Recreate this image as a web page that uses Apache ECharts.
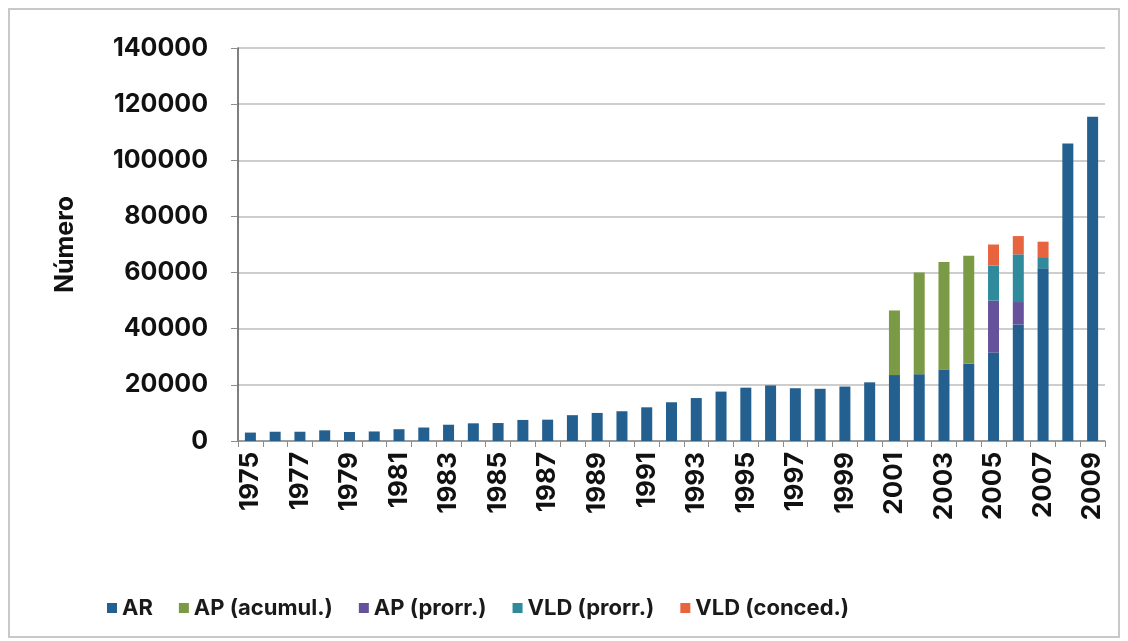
<!DOCTYPE html>
<html>
<head>
<meta charset="utf-8">
<script src="https://cdn.jsdelivr.net/npm/echarts@6/dist/echarts.min.js"></script>
<style>
html,body{margin:0;padding:0;background:#fff;}
#chart{width:1128px;height:641px;}
</style>
</head>
<body>
<div id="chart"></div>
<script>
const years = ['1975','1976','1977','1978','1979','1980','1981','1982','1983','1984','1985','1986','1987','1988','1989','1990','1991','1992','1993','1994','1995','1996','1997','1998','1999','2000','2001','2002','2003','2004','2005','2006','2007','2008','2009'];
const seriesNames = ['AR','AP (acumul.)','AP (prorr.)','VLD (prorr.)','VLD (conced.)'];
const AR = [3000,3300,3300,3800,3200,3400,4200,4800,5800,6300,6400,7500,7600,9200,10000,10600,12000,13800,15300,17600,19000,19800,18800,18600,19400,20900,23500,23800,25500,27500,31500,41500,61500,106000,115500];
const APacumul = [null,null,null,null,null,null,null,null,null,null,null,null,null,null,null,null,null,null,null,null,null,null,null,null,null,null,23000,36200,38300,38500,null,null,null,null,null];
const APprorr = [null,null,null,null,null,null,null,null,null,null,null,null,null,null,null,null,null,null,null,null,null,null,null,null,null,null,null,null,null,null,18500,8000,null,null,null];
const VLDprorr = [null,null,null,null,null,null,null,null,null,null,null,null,null,null,null,null,null,null,null,null,null,null,null,null,null,null,null,null,null,null,12500,17000,4000,null,null];
const VLDconced = [null,null,null,null,null,null,null,null,null,null,null,null,null,null,null,null,null,null,null,null,null,null,null,null,null,null,null,null,null,null,7500,6500,5500,null,null];
const yTicks = {min:0, max:140000, interval:20000};
const colors = ['#24608f','#7b9a45','#65529a','#2f8a9c','#e8643f'];

const FONT = 'Inter';
const chart = echarts.init(document.getElementById('chart'));
const dataSets = [AR, APacumul, APprorr, VLDprorr, VLDconced];
chart.setOption({
  animation:false,
  color: colors,
  graphic:[{type:'rect', shape:{x:9,y:9,width:1110,height:628}, style:{fill:'none', stroke:'#c8c8c8', lineWidth:2}, silent:true}],
  grid:{left:238, right:23, top:48, bottom:200},
  legend:{
    data: seriesNames, left:102, top:592, itemGap:26, itemWidth:10, itemHeight:10, icon:'rect',
    textStyle:{fontFamily:FONT, fontWeight:'bold', fontSize:22, color:'#1a1a1a'}
  },
  xAxis:{
    type:'category', data: years,
    axisLine:{lineStyle:{color:'#8c8c8c', width:1.5}},
    axisTick:{show:true, interval:0, length:6, lineStyle:{color:'#8c8c8c'}},
    axisLabel:{interval:1, rotate:90, margin:11, fontFamily:FONT, fontWeight:'bold', fontSize:26, color:'#111'}
  },
  yAxis:{
    type:'value', min:yTicks.min, max:yTicks.max, interval:yTicks.interval,
    name:'Número', nameLocation:'middle', nameGap:160, nameRotate:90,
    nameTextStyle:{fontFamily:FONT, fontWeight:'bold', fontSize:25, color:'#111'},
    axisLine:{show:true, lineStyle:{color:'#555', width:1.5}},
    axisTick:{show:true, length:7, lineStyle:{color:'#8c8c8c'}},
    axisLabel:{margin:30, fontFamily:FONT, fontWeight:'bold', fontSize:25, color:'#111', formatter:(v)=>String(v)},
    splitLine:{lineStyle:{color:'#bcbcbc', width:1.5}}
  },
  series: seriesNames.map((n,i)=>({
    name:n, type:'bar', stack:'total', barWidth:11, data: dataSets[i],
    itemStyle:{color:colors[i]}
  }))
});
</script>
</body>
</html>
